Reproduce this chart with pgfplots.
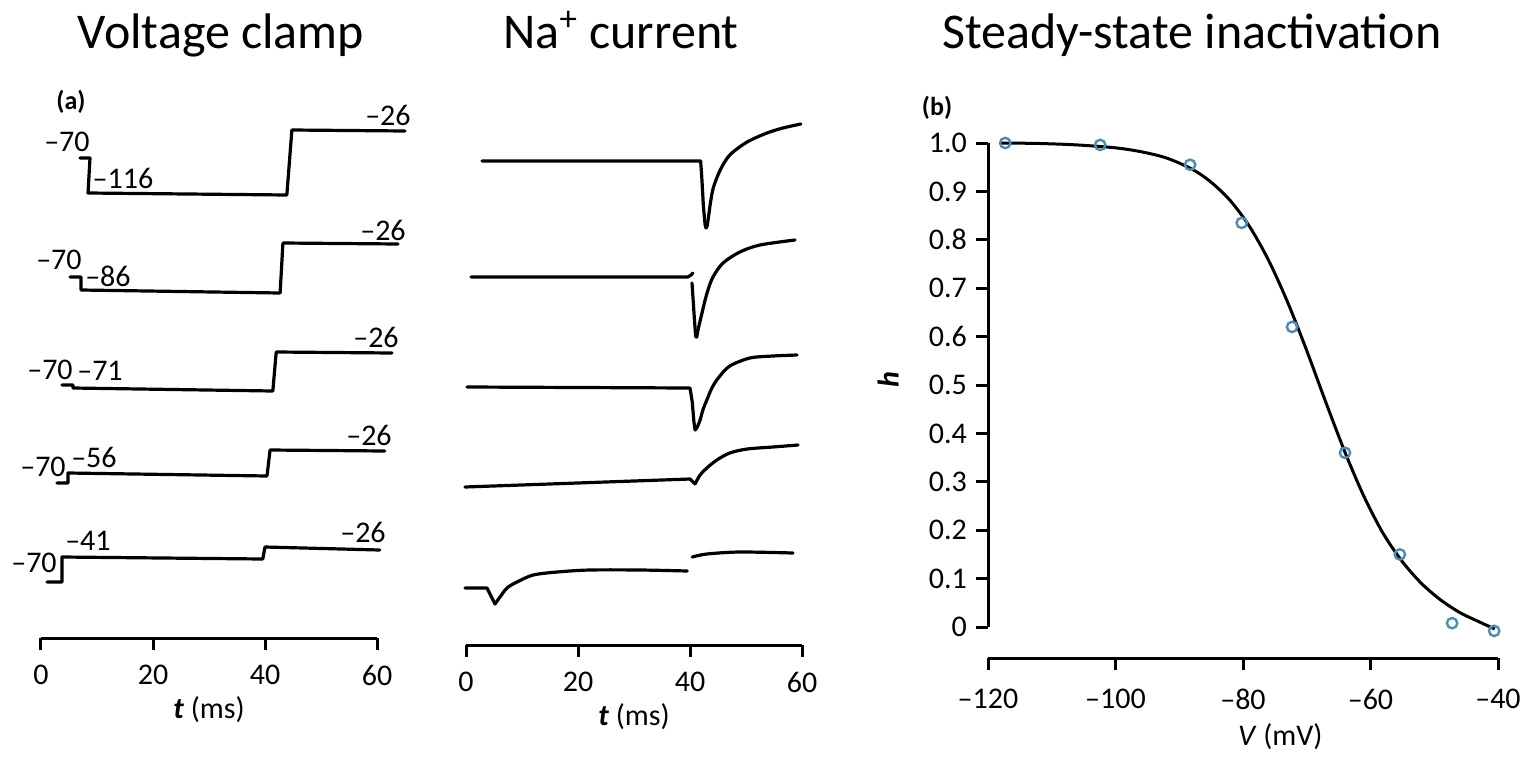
\documentclass[border=0pt]{standalone}
\usepackage{fontspec}
\setmainfont{Carlito}
\usepackage{pgfplots}
\pgfplotsset{compat=1.18}
\definecolor{ptblue}{RGB}{78,140,178}
\tikzset{lab/.style={inner sep=0pt, anchor=center, font=\fontsize{15}{15}\selectfont}}
\pgfplotsset{
  trace/.style={black, line width=1.6pt, line join=round, line cap=round, no markers},
  fixlines/.style={
    axis line style={-, line width=1.5pt, black},
    every outer x axis line/.append style={-},
    every outer y axis line/.append style={-},
    tick style={line width=1.5pt, black},
    tick align=outside, major tick length=6pt,
  },
  panel/.style={
    scale only axis, anchor=south west, clip=false,
    tick label style={font=\fontsize{15}{15}\selectfont},
  },
  tpanel/.style={
    panel, xmin=0, xmax=60, axis x line=bottom, axis y line=none,
    xtick={0,20,40,60}, xticklabels={0,20,40,60}, ytick=\empty,
    xticklabel style={anchor=north, yshift=-4pt},
    xlabel={\textbf{\textit{t}} (ms)},
    xlabel style={at={(axis description cs:0.5,0)}, anchor=center, yshift=-36pt, font=\fontsize{15}{15}\selectfont},
    fixlines,
  },
}
\begin{document}
\begin{tikzpicture}
\useasboundingbox (0,0) rectangle (764.5pt,378.5pt);
% titles
\node[anchor=base, font=\fontsize{25}{30}\selectfont] at (110.5pt,354pt) {Voltage clamp};
\node[anchor=base, font=\fontsize{25}{30}\selectfont] at (310.5pt,354pt) {Na\textsuperscript{+} current};
\node[anchor=base, font=\fontsize{25}{30}\selectfont] at (596pt,354pt) {Steady-state inactivation};

% ---------------- (a) voltage clamp ----------------
\begin{axis}[tpanel, at={(20.5pt,59.5pt)}, width=168pt, height=264pt, ymin=119, ymax=647]
\addplot[trace] coordinates {(6.96,599)(8.75,599)(8.4,564)(43.9,562)(44.8,627)(65.0,626)};
\addplot[trace] coordinates {(5.18,480)(7.14,480)(7.14,467)(42.7,464)(43.2,514)(63.75,513)};
\addplot[trace] coordinates {(3.75,372)(5.71,372)(5.71,369)(41.4,366)(42.0,405)(62.7,404)};
\addplot[trace] coordinates {(2.86,274)(4.82,274)(4.82,284)(40.36,281)(40.9,307)(61.4,306)};
\addplot[trace] coordinates {(1.07,175)(3.75,175)(3.75,200)(39.6,198)(40.0,210)(60.5,207)};
\node[lab] at (axis cs:4.64,615) {\textendash70};
\node[lab] at (axis cs:14.64,579) {\textendash116};
\node[lab] at (axis cs:61.96,642) {\textendash26};
\node[lab] at (axis cs:3.21,497) {\textendash70};
\node[lab] at (axis cs:11.96,481) {\textendash86};
\node[lab] at (axis cs:61.07,527) {\textendash26};
\node[lab] at (axis cs:1.61,387) {\textendash70};
\node[lab] at (axis cs:10.54,386) {\textendash71};
\node[lab] at (axis cs:59.82,420) {\textendash26};
\node[lab] at (axis cs:0.36,290) {\textendash70};
\node[lab] at (axis cs:9.46,300) {\textendash56};
\node[lab] at (axis cs:58.57,322) {\textendash26};
\node[lab] at (axis cs:-1.25,194) {\textendash70};
\node[lab] at (axis cs:8.39,216) {\textendash41};
\node[lab] at (axis cs:57.5,225) {\textendash26};
\node[inner sep=0pt, font=\fontsize{13}{13}\selectfont\bfseries] at (axis cs:5.36,655) {(a)};
\end{axis}

% ---------------- Na+ current ----------------
\begin{axis}[tpanel, at={(233pt,56pt)}, width=168pt, height=267.5pt, ymin=112, ymax=647]
% trace 1
\addplot[trace] coordinates {(2.86,596)(41.9,596)(42.1,580)(42.4,550)(42.7,532)(42.85,529)};
\addplot[trace, smooth, tension=0.5] coordinates {(42.85,529)(43.05,531)(43.3,540)(43.7,556)(44.2,570)(45.4,587)(47.1,602)(50.2,615)(53.75,624)(56.6,629)(59.8,633)};
% trace 2
\addplot[trace] coordinates {(0.89,480)(39.6,480)(40.2,482)(40.5,484)};
\addplot[trace] coordinates {(40.36,474)(40.7,445)(41.0,421)};
\addplot[trace, smooth, tension=0.5] coordinates {(41.0,421)(41.2,420)(41.43,427)(42.14,444)(43.04,464)(44.1,480)(45.9,494)(48.9,505)(52.5,512)(58.75,517)};
% trace 3
\addplot[trace] coordinates {(0.18,370)(40.0,369)(40.4,355)(40.7,335)(40.9,327)};
\addplot[trace, smooth, tension=0.5] coordinates {(40.9,327)(41.3,330)(41.8,337)(42.3,347)(43.0,357)(44.0,370)(45.2,380)(47.1,391)(50.7,399)(54.8,401)(59.1,402)};
% trace 4
\addplot[trace] coordinates {(-0.18,270)(40.0,278)(40.9,273)};
\addplot[trace, smooth, tension=0.5] coordinates {(40.9,273)(41.8,282)(43.0,289)(44.8,297)(47.1,304)(50.2,308)(54.8,310)(59.3,312)};
% trace 5
\addplot[trace] coordinates {(-0.18,169)(3.75,169)(5.18,153)};
\addplot[trace, smooth, tension=0.5] coordinates {(5.18,153)(6.07,160)(7.32,169)(9.1,175)(12.0,182)(16.25,185)(22.1,187)(31.1,187)(39.5,186)};
\addplot[trace, smooth, tension=0.5] coordinates {(40.4,200)(43.0,203)(48.9,205)(58.4,204)};
\end{axis}

% ---------------- (b) steady-state inactivation ----------------
\begin{axis}[panel, at={(494pt,49.5pt)}, width=255pt, height=257.5pt,
  xmin=-120, xmax=-40, ymin=-0.064, ymax=1.0,
  axis x line=bottom, axis y line=left,
  fixlines,
  y axis line style={shorten <=15.5pt},
  xtick={-120,-100,-80,-60,-40},
  xticklabels={\textendash120,\textendash100,\textendash80,\textendash60,\textendash40},
  ytick={0,0.1,0.2,0.3,0.4,0.5,0.6,0.7,0.8,0.9,1.0},
  yticklabels={0,0.1,0.2,0.3,0.4,0.5,0.6,0.7,0.8,0.9,1.0},
  xticklabel style={anchor=north, yshift=-6pt},
  yticklabel style={anchor=east, xshift=-1pt},
  xlabel={\textit{V} (mV)},
  xlabel style={at={(axis description cs:0.573,0)}, anchor=center, yshift=-39.5pt, font=\fontsize{15}{15}\selectfont},
  ylabel={\textbf{\textit{h}}},
  ylabel style={at={(axis description cs:-0.196,0.54)}, anchor=center, font=\fontsize{15}{15}\selectfont},
]
\addplot[black, line width=1.5pt, smooth, tension=0.5, no markers] coordinates {
(-118,1.0)(-112,0.999)(-106,0.996)(-100,0.99)(-96,0.982)(-92,0.969)(-88,0.946)(-85,0.919)(-82,0.881)(-79,0.828)(-76,0.758)(-73,0.671)(-70,0.571)(-67,0.464)(-64,0.361)(-61,0.269)(-58,0.193)(-55,0.135)(-52,0.090)(-49,0.056)(-46,0.030)(-43,0.011)(-40.5,-0.004)};
\addplot[only marks, mark=o, mark size=2.6pt, ptblue, mark options={line width=1.2pt}] coordinates {
(-117.3,1.0)(-102.4,0.996)(-88.3,0.955)(-80.2,0.835)(-72.3,0.62)(-64.0,0.36)(-55.4,0.15)(-47.2,0.008)(-40.6,-0.008)};
\node[inner sep=0pt, font=\fontsize{13}{13}\selectfont\bfseries] at (axis description cs:-0.100,1.068) {(b)};
\end{axis}
\end{tikzpicture}
\end{document}
